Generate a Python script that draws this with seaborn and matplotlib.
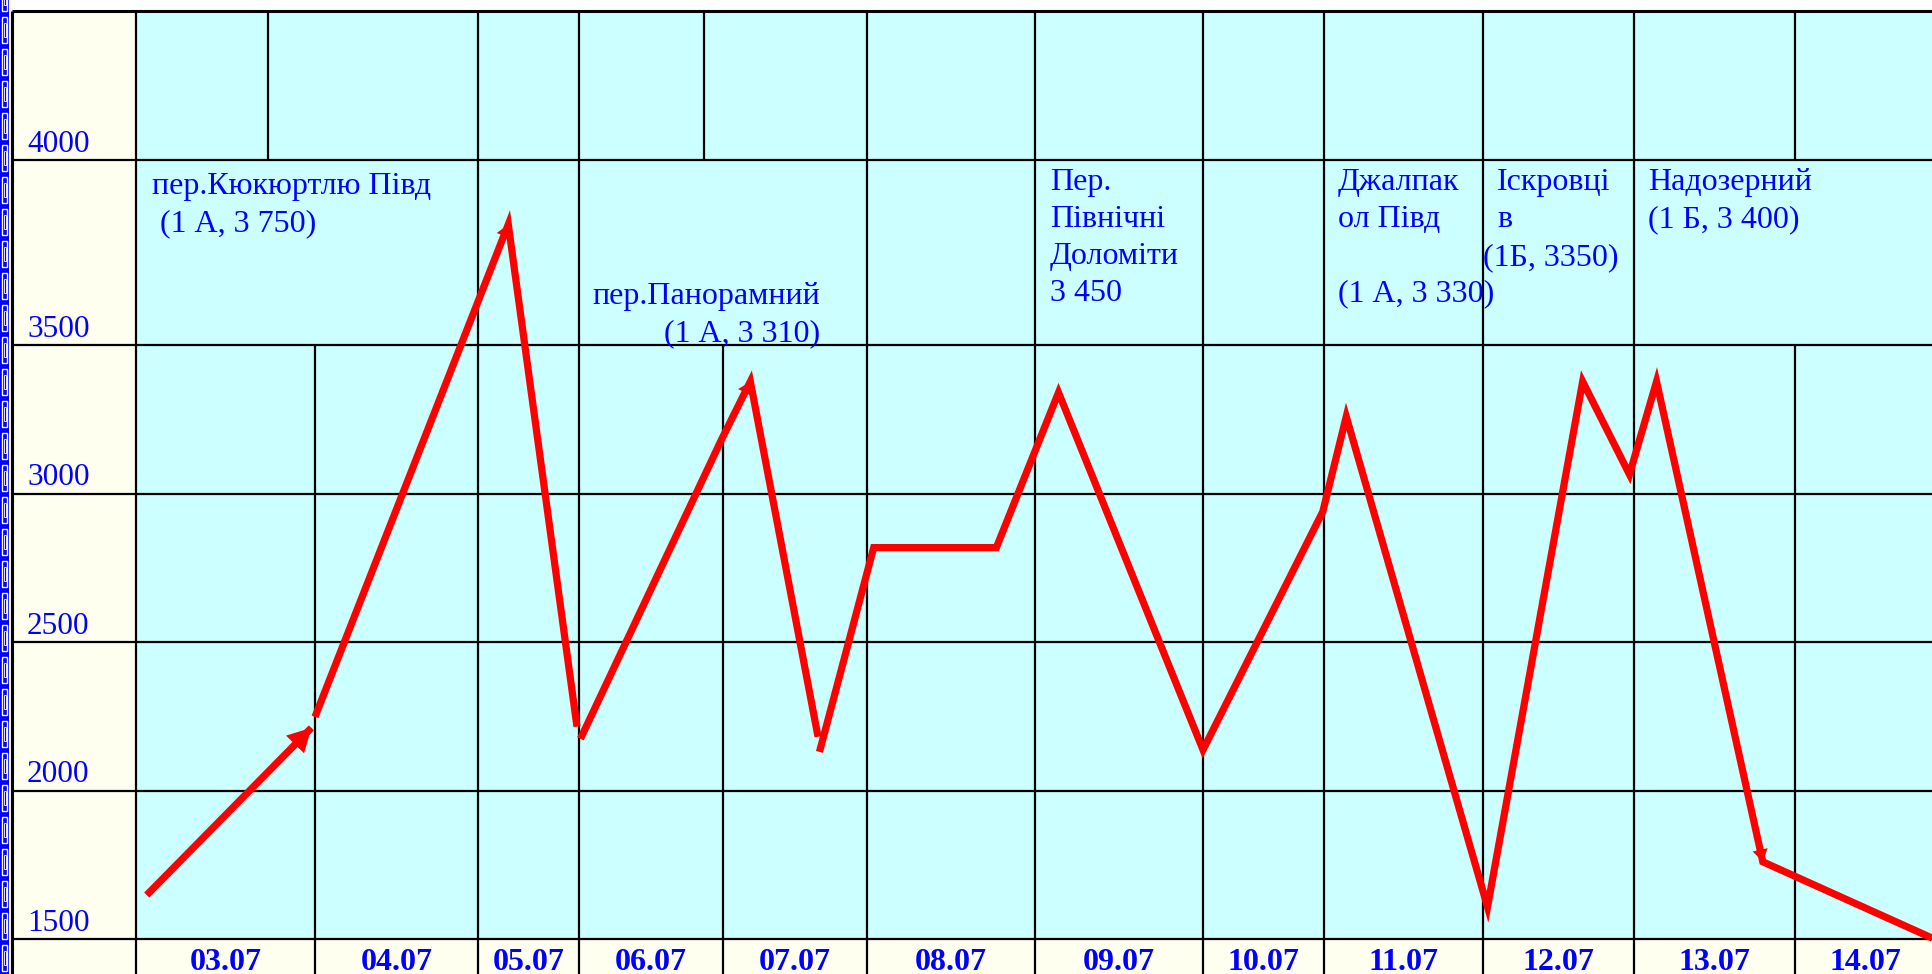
import numpy as np
import pandas as pd
import matplotlib
matplotlib.use("Agg")
import matplotlib.pyplot as plt
from matplotlib.patches import Rectangle
import seaborn as sns

# дати походу (стовпчики таблиці)
dates = ["03.07", "04.07", "05.07", "06.07", "07.07", "08.07",
         "09.07", "10.07", "11.07", "12.07", "13.07", "14.07"]

# підписи висот і рядки, над якими вони стоять
alt_labels = ["4000", "3500", "3000", "2500", "2000", "1500"]
alt_rows = [4123, 3500, 3000, 2500, 2000, 1500]

# профіль маршруту: день (дробова позиція в стовпчику), висота (м), ділянка
route_day = [0.06, 0.98,
             1.00, 2.30, 2.98,
             3.01, 3.99, 4.19, 4.66,
             4.67, 5.04, 5.77, 6.14, 7.00, 7.99, 8.14, 9.03, 9.66, 9.97, 10.14, 10.80, 11.98]
route_alt = [1648, 2211,
             2248, 3906, 2215,
             2174, 3182, 3377, 2181,
             2130, 2818, 2818, 3340, 2137, 2939, 3259, 1608, 3377, 3064, 3377, 1760, 1503]
route_seg = [0, 0, 1, 1, 1, 2, 2, 2, 2] + [3] * 13

# перевали
pass_text = ["пер.Кюкюртлю Півд\n (1 А, 3 750)",
             "пер.Панорамний\n(1 А, 3 310)",
             "Пер.\nПівнічні\nДоломіти\n3 450",
             "Джалпак\nол Півд\n\n(1 А, 3 330)",
             "Іскровці\nв",
             "(1Б, 3350)",
             "Надозерний\n(1 Б, 3 400)"]
pass_day = [0.09, 4.674, 6.089, 8.088, 9.093, 9.0, 10.087]
pass_top = [4083, 3712, 4096, 4096, 4096, 3843, 4096]
pass_ha = ["left", "right", "left", "left", "left", "left", "left"]

# межі стовпчиків таблиці (пікселі) -- розмітка
day_edges = np.arange(-1, 13)
px_edges = np.array([12, 136, 315, 478, 579, 723, 867, 1035, 1203, 1324, 1483, 1634, 1795, 1935])

BLUE = "#0000FF"
RED = "#FF0000"
CYAN = "#CCFFFF"
IVORY = "#FFFFF0"

plt.rcParams['font.family'] = ['Liberation Serif', 'DejaVu Serif']

fig = plt.figure(figsize=(19.32, 9.74), dpi=100)
ax = fig.add_axes([12 / 1932, 0, 1920 / 1932, 963 / 974])

y_lo, y_hi = 1382.2, 4624.6
x_hi = 11 + (1932 - 1795) / 140

# фон таблиці
ax.set_facecolor(CYAN)
ax.axvspan(-1, 0, color=IVORY, zorder=0)
ax.axhspan(y_lo, 1500, color=IVORY, zorder=0)

# горизонтальні лінії
for y in [1500, 2000, 2500, 3000, 3500, 4123]:
    ax.hlines(y, -1, x_hi, color="black", lw=1.6, zorder=1)

# вертикальні лінії (різні для різних рядків)
top_v = [0, 0.74, 2, 3, 3.87, 5, 6, 7, 8, 9, 10, 11]
mid_v = [0, 2, 3, 5, 6, 7, 8, 9, 10]
low_v = list(range(0, 12))
ax.vlines(top_v, 4123, y_hi, color="black", lw=1.6, zorder=1)
ax.vlines(mid_v, 3500, 4123, color="black", lw=1.6, zorder=1)
ax.vlines(low_v, y_lo, 3500, color="black", lw=1.6, zorder=1)
# рамка
ax.vlines(-1, y_lo, y_hi, color="black", lw=2.2, zorder=1, clip_on=False)
ax.hlines(y_hi, -1, x_hi, color="black", lw=2.2, zorder=1, clip_on=False)

# профіль маршруту
df = pd.DataFrame({"day": route_day, "alt": route_alt, "seg": route_seg})
sns.lineplot(data=df, x="day", y="alt", units="seg", estimator=None, sort=False,
             color=RED, lw=5.2, ax=ax, legend=False, zorder=3)
for ln in ax.lines:
    ln.set_solid_joinstyle("miter")
    ln.set_solid_capstyle("butt")

# стрілки
def head(i_from, i_to, scale, hl, hw):
    ax.annotate("", xy=(route_day[i_to], route_alt[i_to]),
                xytext=(route_day[i_from], route_alt[i_from]),
                arrowprops=dict(arrowstyle=f"-|>,head_length={hl},head_width={hw}",
                                color=RED, lw=0, shrinkA=0, shrinkB=0,
                                mutation_scale=scale), zorder=4)

head(0, 1, 24, 0.7, 0.38)
head(2, 3, 11, 0.8, 0.5)
head(6, 7, 11, 0.8, 0.5)
head(19, 20, 11, 0.8, 0.5)

# підписи висот
for lab, y in zip(alt_labels, alt_rows):
    ax.text(-0.879, y + 28, lab, color=BLUE, fontsize=22.5, ha="left", va="baseline")

# дати
for i, d in enumerate(dates):
    ax.text(i + 0.5, 1396, d, color=BLUE, fontsize=23, fontweight="bold",
            ha="center", va="baseline")

# перевали
for t, x, y, ha in zip(pass_text, pass_day, pass_top, pass_ha):
    ax.text(x, y, t, color=BLUE, fontsize=23, ha=ha, va="top",
            multialignment=ha, linespacing=1.36, zorder=5)

ax.set_xlim(-1, x_hi)
ax.set_ylim(y_lo, y_hi)
ax.set_xscale("function", functions=(lambda d: np.interp(d, day_edges, px_edges),
                                     lambda p: np.interp(p, px_edges, day_edges)))
ax.set_xlim(-1, x_hi)
ax.set_xticks([])
ax.set_yticks([])
ax.set_xlabel("")
ax.set_ylabel("")
for s in ax.spines.values():
    s.set_visible(False)

# декоративна рамка зліва
fig.add_artist(Rectangle((0, 0), 9 / 1932, 1, transform=fig.transFigure,
                         facecolor=BLUE, edgecolor="none"))
for k in range(31):
    y0 = (k * 32 + 3) / 974
    fig.add_artist(Rectangle((2 / 1932, y0), 5 / 1932, 26 / 974,
                             transform=fig.transFigure, fill=False,
                             edgecolor="white", lw=1.0))
    fig.add_artist(Rectangle((3.5 / 1932, y0 + 6 / 974), 2 / 1932, 14 / 974,
                             transform=fig.transFigure, fill=False,
                             edgecolor="white", lw=0.6))

fig.savefig("out.png", dpi=100, facecolor="white")
